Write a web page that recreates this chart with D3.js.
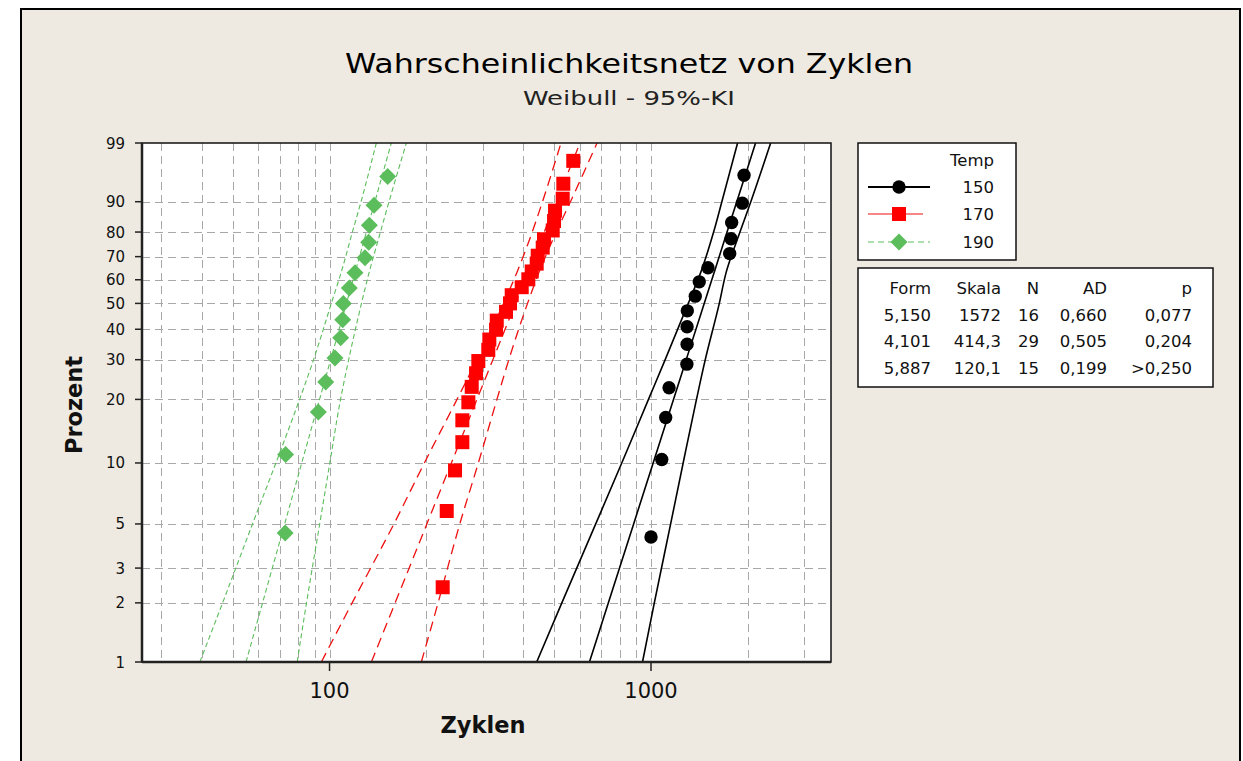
<!DOCTYPE html>
<html><head><meta charset="utf-8">
<script src="https://cdn.jsdelivr.net/npm/d3@7"></script>
<style>body{margin:0;background:#fff;} svg{display:block;}</style>
</head><body><svg id="c" width="1243" height="761"></svg>
<script>
// ---------- data ----------
const groups = ["150", "170", "190"];
const forms = [5.150, 4.101, 5.887];
const scales = [1572, 414.3, 120.1];
const formLabels = ["5,150", "4,101", "5,887"];
const skalaLabels = ["1572", "414,3", "120,1"];
const nLabels = ["16", "29", "15"];
const adLabels = ["0,660", "0,505", "0,199"];
const pLabels = ["0,077", "0,204", ">0,250"];

const cycles150 = [1000,1080,1111,1138,1293,1295,1295,1297,1373,1413,1504,1757,1774,1782,1923,1947];
const pct150 = [4.3,10.4,16.5,22.6,28.7,34.8,40.9,47.0,53.0,59.1,65.2,71.3,77.4,83.5,89.6,95.7];

const cycles170 = [224.9,231.5,245.7,258.9,258.9,270.3,276.9,285.6,290.3,311.8,314.1,329.6,331.3,354.0,364.3,368.7,396.1,415.3,425.5,441.0,444.2,460.4,464.7,494.6,499.3,502.9,531.3,533.6,573.0];
const pct170 = [2.4,5.8,9.2,12.6,16.0,19.4,22.8,26.2,29.6,33.0,36.4,39.8,43.2,46.6,50.0,53.4,56.8,60.2,63.6,67.0,70.4,73.8,77.2,80.6,84.0,87.4,90.8,94.2,97.6];

const cycles190 = [72.8,73.0,92.3,97.3,104.0,108.3,109.9,110.4,115.2,120.0,128.9,132.4,133.0,137.5,151.7];
const pct190 = [4.5,11.0,17.5,24.0,30.5,37.0,43.5,50.0,56.5,63.0,69.5,76.0,82.5,89.0,95.5];

// confidence bounds (cycles) read at these percent levels
const ciPct = [1,2,5,10,20,30,50,63.2,80,90,99];
const ciLow150 = [441,528,673,811,982,1107,1306,1428,1566,1661,1859];
const ciUp150  = [941,1024,1151,1259,1385,1475,1631,1713,1891,2044,2356];
const ciLow170 = [94.3,117.6,158.6,197.2,249.2,287.4,347.8,382.8,427.1,459.6,524.9];
const ciUp170  = [193.0,217.6,254.2,290.3,331.7,361.2,413.0,448.3,507.2,561.6,679.4];
const ciLow190 = [39.5,46.5,57.6,68.1,80.7,89.2,101.3,108.7,117.8,125.3,139.8];
const ciUp190  = [79.3,84.8,93.2,100.2,108.2,114.7,125.7,132.8,144.0,153.1,173.4];

const yTicks = [1,2,3,5,10,20,30,40,50,60,70,80,90,99];
const yGrid = [2,3,5,10,20,30,40,50,60,70,80,90];
const xTicks = [100, 1000];
const xGrid = [30,40,50,60,70,80,90,100,200,300,400,500,600,700,800,900,1000,2000,3000];

// ---------- drawing ----------
const svg = d3.select("#c");
const font = "DejaVu Sans, Verdana, sans-serif";
const L = 142, R = 831, T = 143, B = 662;

svg.append("rect").attr("x", 21).attr("y", 9).attr("width", 1219).attr("height", 770)
  .attr("fill", "#eeeae1").attr("stroke", "#000").attr("stroke-width", 2);

const F = p => Math.log(-Math.log(1 - p / 100));
const x = d3.scaleLog().domain([26.1, 3630]).range([L, R]);
const y = d3.scaleLinear().domain([F(1), F(99)]).range([B, T]);

svg.append("rect").attr("x", L).attr("y", T).attr("width", R - L).attr("height", B - T).attr("fill", "#fff");

svg.append("defs").append("clipPath").attr("id", "clip")
  .append("rect").attr("x", L).attr("y", T).attr("width", R - L).attr("height", B - T);

// grid
const grid = svg.append("g").attr("stroke", "#a8a8a8").attr("stroke-width", 1).attr("stroke-dasharray", "8,5");
grid.selectAll("line.v").data(xGrid).join("line")
  .attr("x1", d => Math.round(x(d)) + 0.5).attr("x2", d => Math.round(x(d)) + 0.5)
  .attr("y1", T).attr("y2", B);
grid.selectAll("line.h").data(yGrid).join("line")
  .attr("y1", d => Math.round(y(F(d))) + 0.5).attr("y2", d => Math.round(y(F(d))) + 0.5)
  .attr("x1", L).attr("x2", R);

// lines
const plot = svg.append("g").attr("clip-path", "url(#clip)");
const lineGen = d3.line().x(d => x(d[0])).y(d => y(F(d[1]))).curve(d3.curveMonotoneY);
const styles = [
  {color: "#000", dash: null, w: 1.6},
  {color: "#ee1010", dash: "10,6", w: 1.3},
  {color: "#5cbd5c", dash: "5,3", w: 1.1}
];
const ciLow = [ciLow150, ciLow170, ciLow190];
const ciUp = [ciUp150, ciUp170, ciUp190];
groups.forEach((g, i) => {
  const fit = ciPct.map(p => [scales[i] * Math.pow(-Math.log(1 - p / 100), 1 / forms[i]), p]);
  const lo = ciLow[i].map((c, k) => [c, ciPct[k]]);
  const up = ciUp[i].map((c, k) => [c, ciPct[k]]);
  [lo, fit, up].forEach(dat => {
    plot.append("path").datum(dat).attr("d", lineGen)
      .attr("fill", "none").attr("stroke", styles[i].color)
      .attr("stroke-width", styles[i].w)
      .attr("stroke-dasharray", styles[i].dash);
  });
});

// points
const circlePath = d3.symbol(d3.symbolCircle, 140)();
const squarePath = "M-7,-7H7V7H-7Z";
const diamondPath = "M0,-8.5L8.5,0L0,8.5L-8.5,0Z";
const pts = [[cycles150, pct150, circlePath, "#000"], [cycles170, pct170, squarePath, "#ff0000"], [cycles190, pct190, diamondPath, "#5cbd5c"]];
pts.forEach(([cs, ps, shape, col]) => {
  svg.append("g").selectAll("path").data(cs.map((c, k) => [c, ps[k]])).join("path")
    .attr("d", shape).attr("fill", col)
    .attr("transform", d => `translate(${x(d[0])},${y(F(d[1]))})`);
});

// frame
svg.append("rect").attr("x", L).attr("y", T).attr("width", R - L).attr("height", B - T)
  .attr("fill", "none").attr("stroke", "#111").attr("stroke-width", 1.5);
svg.append("line").attr("x1", L).attr("x2", L).attr("y1", T).attr("y2", B).attr("stroke", "#222").attr("stroke-width", 2.5);
svg.append("line").attr("x1", L).attr("x2", R).attr("y1", B).attr("y2", B).attr("stroke", "#222").attr("stroke-width", 2.5);

// y axis ticks & labels
const yAx = svg.append("g");
yAx.selectAll("line").data(yTicks).join("line")
  .attr("x1", L - 7).attr("x2", L).attr("y1", d => y(F(d))).attr("y2", d => y(F(d)))
  .attr("stroke", "#222").attr("stroke-width", 1.5);
yAx.selectAll("text").data(yTicks).join("text")
  .attr("x", 125).attr("y", d => y(F(d)) + 5.5).attr("text-anchor", "end")
  .attr("font-family", font).attr("font-size", 15).attr("fill", "#111").text(d => d);

// x axis ticks & labels
const xAx = svg.append("g");
xAx.selectAll("line").data(xTicks).join("line")
  .attr("x1", d => x(d)).attr("x2", d => x(d)).attr("y1", B).attr("y2", B + 9)
  .attr("stroke", "#222").attr("stroke-width", 1.5);
xAx.selectAll("text").data(xTicks).join("text")
  .attr("x", d => x(d)).attr("y", 698).attr("text-anchor", "middle")
  .attr("font-family", font).attr("font-size", 21).attr("fill", "#111").text(d => d);

// titles
svg.append("text").attr("x", 629).attr("y", 73).attr("text-anchor", "middle")
  .attr("font-family", font).attr("font-size", 27).attr("fill", "#000")
  .attr("textLength", 568).attr("lengthAdjust", "spacingAndGlyphs")
  .text("Wahrscheinlichkeitsnetz von Zyklen");
svg.append("text").attr("x", 629).attr("y", 105).attr("text-anchor", "middle")
  .attr("font-family", font).attr("font-size", 19).attr("fill", "#222")
  .attr("textLength", 212).attr("lengthAdjust", "spacingAndGlyphs")
  .text("Weibull - 95%-KI");
svg.append("text").attr("x", 483).attr("y", 733).attr("text-anchor", "middle")
  .attr("font-family", font).attr("font-size", 22.5).attr("font-weight", "bold").attr("fill", "#111")
  .text("Zyklen");
svg.append("text").attr("transform", "translate(82,405) rotate(-90)").attr("text-anchor", "middle")
  .attr("font-family", font).attr("font-size", 22.5).attr("font-weight", "bold").attr("fill", "#111")
  .text("Prozent");

// legend
const lg = svg.append("g");
lg.append("rect").attr("x", 858).attr("y", 143).attr("width", 158).attr("height", 117)
  .attr("fill", "#fff").attr("stroke", "#111").attr("stroke-width", 1.5);
lg.append("text").attr("x", 994).attr("y", 166).attr("text-anchor", "end")
  .attr("font-family", font).attr("font-size", 16.5).attr("fill", "#111").text("Temp");
const legY = [187, 214, 242];
const legShapes = [circlePath, squarePath, diamondPath];
const legCols = ["#000", "#ff0000", "#5cbd5c"];
groups.forEach((g, i) => {
  lg.append("line").attr("x1", 868).attr("x2", i === 1 ? 923 : 930).attr("y1", legY[i]).attr("y2", legY[i])
    .attr("stroke", styles[i].color).attr("stroke-width", i === 0 ? 1.8 : 1.2)
    .attr("stroke-dasharray", i === 2 ? "6,4" : null);
  lg.append("path").attr("d", legShapes[i]).attr("fill", legCols[i])
    .attr("transform", `translate(899,${legY[i]})`);
  lg.append("text").attr("x", 994).attr("y", legY[i] + 6).attr("text-anchor", "end")
    .attr("font-family", font).attr("font-size", 16.5).attr("fill", "#111").text(g);
});

// table
const tb = svg.append("g");
tb.append("rect").attr("x", 858).attr("y", 268).attr("width", 355).attr("height", 119)
  .attr("fill", "#fff").attr("stroke", "#111").attr("stroke-width", 1.5);
const colX = [931, 1001, 1039, 1107, 1192];
const headers = ["Form", "Skala", "N", "AD", "p"];
const rowsY = [294, 321, 347, 374];
const cols = [formLabels, skalaLabels, nLabels, adLabels, pLabels];
headers.forEach((h, c) => {
  tb.append("text").attr("x", colX[c]).attr("y", rowsY[0]).attr("text-anchor", "end")
    .attr("font-family", font).attr("font-size", 16.5).attr("fill", "#111").text(h);
  cols[c].forEach((v, r) => {
    tb.append("text").attr("x", colX[c]).attr("y", rowsY[r + 1]).attr("text-anchor", "end")
      .attr("font-family", font).attr("font-size", 16.5).attr("fill", "#111").text(v);
  });
});
</script>
</body></html>
